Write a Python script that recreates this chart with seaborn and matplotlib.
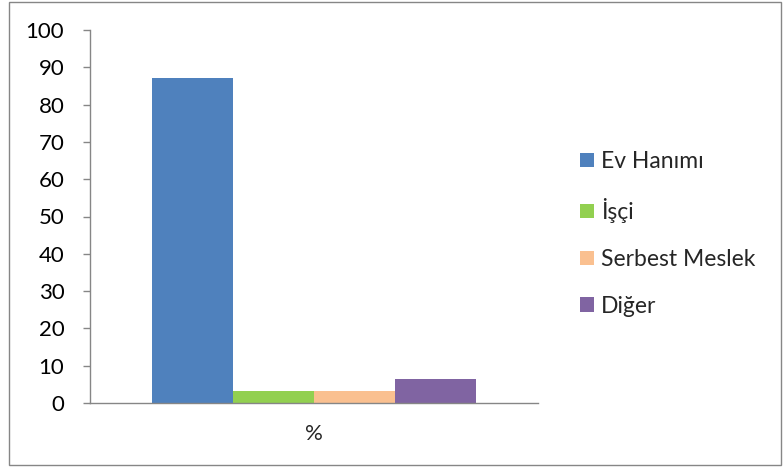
import matplotlib
matplotlib.use("Agg")
import matplotlib.pyplot as plt
from matplotlib.patches import Rectangle
import seaborn as sns
import pandas as pd

# Occupation distribution (%)
category = ["%"]
groups = ["Ev Hanımı", "İşçi", "Serbest Meslek", "Diğer"]
values = [87.2, 3.2, 3.2, 6.4]
colors = ["#4F81BD", "#92D050", "#FAC090", "#8064A2"]
y_ticks = [0, 10, 20, 30, 40, 50, 60, 70, 80, 90, 100]

df = pd.DataFrame({"cat": category * len(groups), "group": groups, "val": values})

sns.set_theme(style="white")
plt.rcParams["font.family"] = ["Lato", "DejaVu Sans"]

fig = plt.figure(figsize=(7.84, 4.70), dpi=100)
ax = fig.add_axes([90 / 784, 1 - 403 / 470, 448 / 784, 373 / 470])

sns.barplot(data=df, x="cat", y="val", hue="group", hue_order=groups,
            palette=colors, width=0.724, saturation=1, linewidth=0,
            ax=ax, legend=True)

ax.set_ylim(0, 100)
ax.set_xlim(-0.5, 0.5)
ax.set_yticks(y_ticks)
ax.set_yticklabels([str(t) for t in y_ticks], fontsize=16, color="#000000")
ax.set_xticks([-0.5, 0.5])
ax.set_xticklabels(["", ""])
ax.set_xticks([0], minor=True)
ax.set_xticklabels(["%"], minor=True, fontsize=16)
ax.tick_params(axis="x", which="minor", length=0, pad=15)
ax.tick_params(axis="x", which="major", direction="out", length=5, width=1, color="#868686")
ax.tick_params(axis="y", direction="out", length=5, width=1, color="#868686", pad=13.5, left=True)
ax.set_xlabel("")
ax.set_ylabel("")
for s in ["top", "right"]:
    ax.spines[s].set_visible(False)
for s in ["left", "bottom"]:
    ax.spines[s].set_color("#868686")
    ax.spines[s].set_linewidth(1)

handles, labels = ax.get_legend_handles_labels()
for h in handles:
    h.set_edgecolor("none")
ax.legend(handles, labels, loc="center left", bbox_to_anchor=(564 / 784, 1 - 234 / 470),
          bbox_transform=fig.transFigure, frameon=False, fontsize=16.5,
          handlelength=0.6, handleheight=0.6, handletextpad=0.3, labelspacing=1.13,
          borderpad=0.2)

fig.patches.append(Rectangle((9 / 784, 5 / 470), 772 / 784, 463 / 470,
                             transform=fig.transFigure, fill=False,
                             edgecolor="#868686", linewidth=1))

fig.savefig("out.png", dpi=100)
